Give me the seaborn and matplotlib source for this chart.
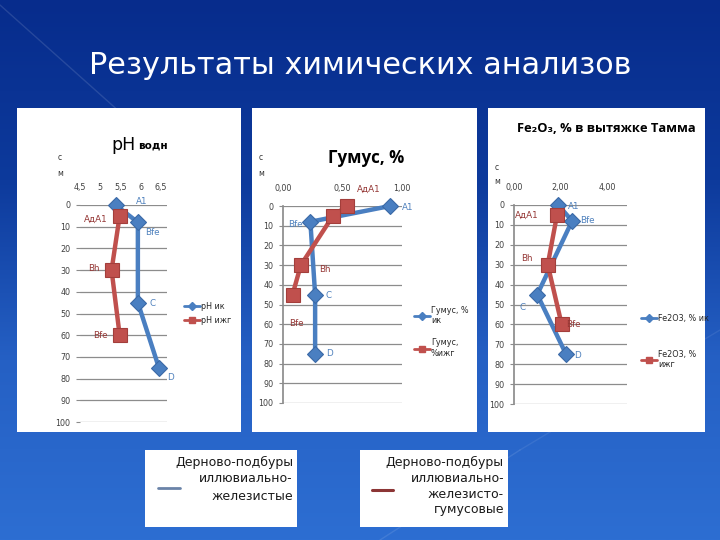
import numpy as np
import pandas as pd
import matplotlib
matplotlib.use("Agg")
import matplotlib.pyplot as plt
import seaborn as sns
from matplotlib.lines import Line2D
from matplotlib.patches import Rectangle
from matplotlib.colors import LinearSegmentedColormap

sns.set_theme(style="white")
plt.rcParams['font.family'] = ['DejaVu Sans']

# ---------------- data ----------------
depth_ik = [0, 8, 45, 75]
hor_ik = ["A1", "Bfe", "C", "D"]

ph_ik = [5.38, 5.93, 5.93, 6.45]
ph_izhg = [5.48, 5.28, 5.48]
ph_depth_izhg = [5, 30, 60]
ph_hor_izhg = ["АдА1", "Bh", "Bfe"]

hum_ik = [0.90, 0.23, 0.27, 0.27]
hum_izhg = [0.54, 0.42, 0.15, 0.08]
hum_depth_izhg = [0, 5, 30, 45]
hum_hor_izhg = ["АдА1", "", "Bh", "Bfe"]

fe_ik = [1.90, 2.50, 1.00, 2.24]
fe_izhg = [1.85, 1.45, 2.05]
fe_depth_izhg = [5, 30, 60]
fe_hor_izhg = ["АдА1", "Bh", "Bfe"]

depth_ticks = list(range(0, 101, 10))

W, H = 720, 540
BLUE = "#4a7fc1"
BLUE_E = "#3a69a6"
RED = "#c0504d"
RED_E = "#a33e3b"
LBL_BLUE = "#4f81bd"
LBL_RED = "#953735"

fig = plt.figure(figsize=(7.2, 5.4), dpi=100)

# background
bg = fig.add_axes([0, 0, 1, 1])
bg.set_xlim(0, W)
bg.set_ylim(H, 0)
bg.axis("off")
cmap = LinearSegmentedColormap.from_list("bgc", ["#072c8c", "#0d3a9c", "#2560c4", "#2d6ed2"])
grad = np.linspace(0, 1, 256).reshape(-1, 1)
bg.imshow(grad, cmap=cmap, aspect="auto", extent=(0, W, H, 0), zorder=0)
bg.plot([0, 140], [5, 130], color="white", alpha=0.12, lw=1, zorder=1)
bg.plot([380, 520], [540, 450], color="white", alpha=0.10, lw=1, zorder=1)
bg.plot([520, 720], [450, 330], color="white", alpha=0.08, lw=1, zorder=1)

# white panels
for (x0, x1) in [(17, 241), (252, 477), (488, 705)]:
    bg.add_patch(Rectangle((x0, 108), x1 - x0, 324, facecolor="white", edgecolor="none", zorder=2))
bg.add_patch(Rectangle((145, 450), 152, 77, facecolor="white", edgecolor="none", zorder=2))
bg.add_patch(Rectangle((360, 450), 148, 77, facecolor="white", edgecolor="none", zorder=2))

bg.text(360, 65, "Результаты химических анализов", color="white", fontsize=21.8,
        ha="center", va="center", zorder=3)

# bottom legends
bg.plot([158, 180], [488, 488], color="#6a83a8", lw=2, zorder=3)
for i, t in enumerate(["Дерново-подбуры", "иллювиально-", "железистые"]):
    bg.text(293, 462 + 17 * i, t, ha="right", va="center", fontsize=9.0, color="#1a1a1a", zorder=3)
bg.plot([372, 393], [490, 490], color="#8c3535", lw=2.2, zorder=3)
for i, t in enumerate(["Дерново-подбуры", "иллювиально-", "железисто-", "гумусовые"]):
    bg.text(504, 462 + 16 * i, t, ha="right", va="center", fontsize=9.0, color="#1a1a1a", zorder=3)


def ax_rect(x0, x1, y0, y1):
    return [x0 / W, 1 - y1 / H, (x1 - x0) / W, (y1 - y0) / H]


def panel(rect, xlim, xticks, xticklabels, ik_vals, izhg_vals, izhg_depth,
          izhg_hor, ik_off, izhg_off, legend_labels, legend_xy, legend_sp, axis_line):
    ax = fig.add_axes(ax_rect(*rect))
    ax.set_facecolor("none")
    df_ik = pd.DataFrame({"val": ik_vals, "depth": depth_ik})
    df_iz = pd.DataFrame({"val": izhg_vals, "depth": izhg_depth})
    sns.lineplot(data=df_ik, x="val", y="depth", sort=False, estimator=None, ax=ax,
                 color=BLUE, lw=3.2, marker="D", markersize=8.5, markeredgecolor=BLUE_E,
                 markeredgewidth=0.8, clip_on=False, zorder=5)
    sns.lineplot(data=df_iz, x="val", y="depth", sort=False, estimator=None, ax=ax,
                 color=RED, lw=3.2, marker="s", markersize=10.5, markeredgecolor=RED_E,
                 markeredgewidth=0.8, clip_on=False, zorder=6)
    ax.set_xlim(*xlim)
    ax.set_ylim(100, 0)
    ax.set_yticks(depth_ticks)
    ax.set_yticklabels([str(d) for d in depth_ticks])
    ax.set_xticks(xticks)
    ax.set_xticklabels(xticklabels)
    ax.xaxis.tick_top()
    ax.set_xlabel("")
    ax.set_ylabel("")
    ax.tick_params(axis="x", length=0, pad=9, labelsize=5.8, labelcolor="#404040")
    ax.tick_params(axis="y", length=3, width=0.8, color="#8c8c8c", pad=4,
                   labelsize=5.8, labelcolor="#404040", left=True)
    ax.yaxis.grid(True, color="#8c8c8c", lw=0.9)
    ax.xaxis.grid(False)
    for s in ["top", "right", "bottom"]:
        ax.spines[s].set_visible(False)
    ax.spines["left"].set_visible(axis_line)
    ax.spines["left"].set_color("#8c8c8c")
    for v, d, t, off in zip(ik_vals, depth_ik, hor_ik, ik_off):
        ax.annotate(t, (v, d), xytext=(off[0] * 0.72, -off[1] * 0.72), textcoords="offset points",
                    ha="center", va="center", fontsize=6.3, color=LBL_BLUE, zorder=7,
                    annotation_clip=False)
    for v, d, t, off in zip(izhg_vals, izhg_depth, izhg_hor, izhg_off):
        if t:
            ax.annotate(t, (v, d), xytext=(off[0] * 0.72, -off[1] * 0.72), textcoords="offset points",
                        ha="center", va="center", fontsize=6.3, color=LBL_RED, zorder=7,
                        annotation_clip=False)
    handles = [Line2D([], [], color=BLUE, lw=2, marker="D", markersize=4.5),
               Line2D([], [], color=RED, lw=2, marker="s", markersize=5)]
    leg = ax.legend(handles, legend_labels, loc="upper left",
                    bbox_to_anchor=(legend_xy[0] / W, 1 - legend_xy[1] / H),
                    bbox_transform=fig.transFigure, frameon=False, fontsize=5.8,
                    handlelength=2.0, handletextpad=0.1, labelspacing=legend_sp,
                    borderaxespad=0, borderpad=0)
    for t in leg.get_texts():
        t.set_color("#262626")
    return ax


# Panel 1: pH
panel((80, 167, 205, 422), (4.5, 6.65), [4.5, 5, 5.5, 6, 6.5], ["4,5", "5", "5,5", "6", "6,5"],
      ph_ik, ph_izhg, ph_depth_izhg, ph_hor_izhg,
      [(26, -3), (15, 10), (15, 1), (12, 10)],
      [(-24, 4), (-18, -2), (-19, 0)],
      ["pH ик", "pH ижг"], (184, 302), 0.6, False)

# Panel 2: humus
panel((283, 402, 206, 403), (0, 1.0), [0, 0.5, 1.0], ["0,00", "0,50", "1,00"],
      hum_ik, hum_izhg, hum_depth_izhg, hum_hor_izhg,
      [(18, 1), (-15, 3), (13, 1), (14, 0)],
      [(21, -17), (0, 0), (24, 4), (4, 29)],
      ["Гумус, %\nик", "Гумус,\n%ижг"], (414, 306), 1.6, True)

# Panel 3: Fe2O3
panel((514, 627, 205, 404), (0, 4.86), [0, 2, 4], ["0,00", "2,00", "4,00"],
      fe_ik, fe_izhg, fe_depth_izhg, fe_hor_izhg,
      [(16, 2), (15, 0), (-15, 13), (11, 1)],
      [(-30, 0), (-21, -6), (12, 0)],
      ["Fe2O3, % ик", "Fe2O3, %\nижг"], (641, 314), 3.3, True)

# panel titles
bg.text(136, 145, "pH", fontsize=12.5, ha="right", va="center", color="black", zorder=3)
bg.text(138, 146, "водн", fontsize=7.5, ha="left", va="center", color="black",
        fontweight="bold", zorder=3)
bg.text(366, 158, "Гумус, %", fontsize=12.2, ha="center", va="center", color="black",
        fontweight="bold", family=["Open Sans", "DejaVu Sans"], zorder=3)
bg.text(606, 128, "Fe₂O₃, % в вытяжке Тамма", fontsize=9.3, ha="center", va="center",
        color="black", fontweight="bold", family=["Open Sans", "DejaVu Sans"], zorder=3)

# "см" axis captions
for (x, y1, y2) in [(60, 157, 173), (261, 157, 173), (497, 168, 181)]:
    bg.text(x, y1, "с", fontsize=5.5, ha="center", va="center", color="#333333", zorder=3)
    bg.text(x, y2, "м", fontsize=5.5, ha="center", va="center", color="#333333", zorder=3)

fig.savefig("out.png", dpi=100)
